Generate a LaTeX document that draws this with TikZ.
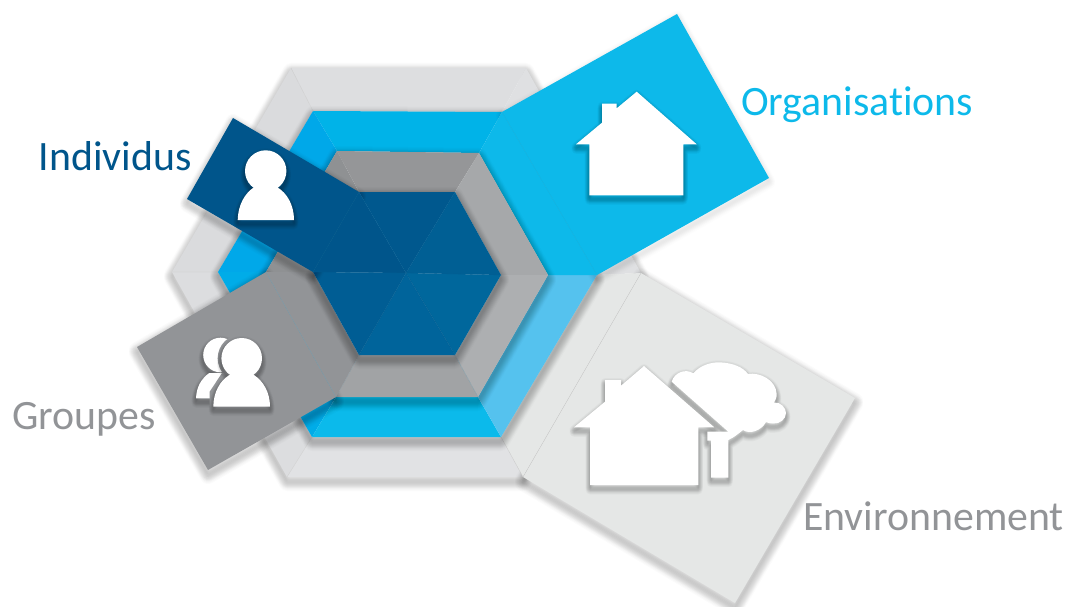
\documentclass[tikz,border=0pt]{standalone}
\usepackage{fontspec}
\setmainfont{Carlito}[Ligatures=NoCommon]
\definecolor{cDark}{HTML}{00558B}
\definecolor{cOrg}{HTML}{0DB9EA}
\definecolor{cGrp}{HTML}{929497}
\definecolor{cEnv}{HTML}{E5E7E6}
\newcommand\softsh[4]{% shift, opacity step, widths, path
  \begin{scope}[transform canvas={yshift=-#1 pt}]
    \foreach \w in {#3}{\draw[black,draw opacity=#2,line width=\w pt,line join=round] #4;}
  \end{scope}
  \begin{scope}[transform canvas={yshift=-#1 pt*0.5}]
    \foreach \w in {#3}{\draw[black,draw opacity=#2,line width=\w pt,line join=round] #4;}
  \end{scope}}
\newcommand\bigsh[1]{\softsh{6}{.016}{2,4,6,8,10,12,14,16}{#1}}
\newcommand\iconsh[1]{\softsh{5}{.024}{1.5,3,4.5,6,7.5,9}{#1}}
\tikzset{
  fold/.style={draw=#1,line width=.3pt},
  lab/.style={anchor=base west,inner sep=0pt,font=\fontsize{41.8}{42}\selectfont},
}
\begin{document}
\begin{tikzpicture}[x=1pt,y=-1pt]
\useasboundingbox (0,0) rectangle (1073,607);
% vertices
\coordinate (a1) at (291,68);\coordinate (a2) at (526,68);\coordinate (a3) at (641,273);
\coordinate (a4) at (523,477);\coordinate (a5) at (287,477);\coordinate (a6) at (172,272);
\coordinate (b1) at (313,111);\coordinate (b2) at (502,112);\coordinate (b3) at (597,275);
\coordinate (b4) at (501,437);\coordinate (b5) at (312,437);\coordinate (b6) at (218,272);
\coordinate (c1) at (337,151);\coordinate (c2) at (479,153);\coordinate (c3) at (548,275);
\coordinate (c4) at (478,397);\coordinate (c5) at (336,397);\coordinate (c6) at (266,272);
\coordinate (d1) at (359,192);\coordinate (d2) at (455,192);\coordinate (d3) at (501,275);
\coordinate (d4) at (455,355);\coordinate (d5) at (359,355);\coordinate (d6) at (313,272);
\coordinate (m) at (406,273);
\coordinate (ind1) at (233,118);\coordinate (ind2) at (187,199);
\coordinate (grp1) at (137,347);\coordinate (grp2) at (208,470);
\coordinate (org1) at (677,14);\coordinate (org2) at (769,178);
\coordinate (env1) at (855,398);\coordinate (env2) at (735,603);
% outer hexagon
\bigsh{(a1)--(a2)--(a3)--(a4)--(a5)--(a6)--cycle}
\fill[color={rgb,255:red,221;green,222;blue,224}] (a1)--(a2)--(b2)--(b1)--cycle;
\fill[color={rgb,255:red,218;green,219;blue,221}] (a1)--(b1)--(b6)--(a6)--cycle;
\fill[color={rgb,255:red,220;green,221;blue,223}] (a6)--(b6)--(b5)--(a5)--cycle;
\fill[color={rgb,255:red,225;green,226;blue,228}] (a5)--(b5)--(b4)--(a4)--cycle;
\fill[color={rgb,255:red,223;green,224;blue,226}] (a2)--(a3)--(b3)--(b2)--cycle;
\draw[fold=gray!40] (a1)--(b1) (a6)--(b6) (a5)--(b5);
% environment panel
\bigsh{(a3)--(env1)--(env2)--(a4)--cycle}
\fill[cEnv] (b3)--(a3)--(a4)--(b4)--cycle;
\fill[cEnv] (a3)--(env1)--(env2)--(a4)--cycle;
\draw[fold=gray!45] (a3)--(a4) (b4)--(a4);
% blue hexagon
\bigsh{(b1)--(b2)--(b3)--(b4)--(b5)--(b6)--cycle}
\fill[color={rgb,255:red,0;green,179;blue,232}] (b1)--(b2)--(c2)--(c1)--cycle;
\fill[color={rgb,255:red,0;green,168;blue,233}] (b1)--(c1)--(c6)--(b6)--cycle;
\fill[color={rgb,255:red,0;green,172;blue,232}] (b6)--(c6)--(c5)--(b5)--cycle;
\fill[color={rgb,255:red,11;green,186;blue,235}] (b5)--(c5)--(c4)--(b4)--cycle;
\fill[color={rgb,255:red,85;green,194;blue,238}] (b4)--(c4)--(c3)--(b3)--cycle;
% organisation panel
\softsh{5}{.008}{2,4,6,8,10,12}{(b2)--(org1)--(org2)--(b3)--cycle}
\fill[cOrg] (b2)--(b3)--(c3)--(c2)--cycle;
\fill[cOrg] (b2)--(org1)--(org2)--(b3)--cycle;
\draw[fold=cOrg!96!black] (b2)--(b3);
% gray hexagon
\bigsh{(c1)--(c2)--(c3)--(c4)--(c5)--(c6)--cycle}
\fill[color={rgb,255:red,149;green,150;blue,152}] (c1)--(c2)--(d2)--(d1)--cycle;
\fill[color={rgb,255:red,143;green,145;blue,147}] (c1)--(d1)--(d6)--(c6)--cycle;
\fill[color={rgb,255:red,166;green,168;blue,170}] (c2)--(c3)--(d3)--(d2)--cycle;
\fill[color={rgb,255:red,173;green,175;blue,177}] (c3)--(c4)--(d4)--(d3)--cycle;
\fill[color={rgb,255:red,161;green,163;blue,165}] (c4)--(c5)--(d5)--(d4)--cycle;
\draw[fold=gray!75!cyan] (c4)--(d4) (c5)--(d5);
% groups panel
\softsh{6}{.016}{2,4,6,8,10,12,14,16}{(c6)--(grp1)--(grp2)--(c5)--cycle}
\fill[cGrp] (c6)--(d6)--(d5)--(c5)--cycle;
\fill[cGrp] (c6)--(grp1)--(grp2)--(c5)--cycle;
\draw[fold=cyan!30!gray] (c6)--(c5);
% dark hexagon
\bigsh{(d1)--(d2)--(d3)--(d4)--(d5)--(d6)--cycle}
\fill[color={rgb,255:red,0;green,88;blue,142}] (d1)--(d2)--(m)--cycle;
\fill[color={rgb,255:red,0;green,95;blue,148}] (d2)--(d3)--(m)--cycle;
\fill[color={rgb,255:red,0;green,103;blue,156}] (d3)--(d4)--(m)--cycle;
\fill[color={rgb,255:red,0;green,100;blue,155}] (d4)--(d5)--(m)--cycle;
\fill[color={rgb,255:red,0;green,93;blue,148}] (d5)--(d6)--(m)--cycle;
\draw[fold=cDark!95!cyan] (d2)--(m) (d3)--(m) (d4)--(m) (d5)--(m);
% individuals panel
\softsh{6}{.016}{2,4,6,8,10,12,14}{(ind1)--(d1)--(d6)--(ind2)--cycle}
\fill[cDark] (d1)--(m)--(d6)--cycle;
\fill[cDark] (ind1)--(d1)--(d6)--(ind2)--cycle;
\draw[fold=cDark!95!cyan] (d1)--(d6) (d1)--(m) (d6)--(m);
% individual icon
\iconsh{(265.7,171) circle (20.7)}
\iconsh{(237.7,220) .. controls (238,205) and (245,193) .. (254,187.3) -- (277.3,187.3) .. controls (287,193) and (294,205) .. (294,220) -- cycle}
\fill[white] (265.7,171) circle (20.7);
\fill[white] (237.7,220) .. controls (238,205) and (245,193) .. (254,187.3) -- (277.3,187.3) .. controls (287,193) and (294,205) .. (294,220) -- cycle;
% groups icon
\iconsh{(220.5,355) circle (17.3)}
\iconsh{(196,398.3) .. controls (196.5,387) and (201,379) .. (209.3,373) -- (232,373) -- (232,398.3) -- cycle}
\fill[white] (220.5,355) circle (17.3);
\fill[white] (196,398.3) .. controls (196.5,387) and (201,379) .. (209.3,373) -- (232,373) -- (232,398.3) -- cycle;
\fill[cGrp] (241.7,358.3) circle (24);
\fill[cGrp] (209.5,408) -- (209.5,392) -- (222,373) -- (240,380) -- (240,408) -- cycle;
\iconsh{(241.7,358.3) circle (20.3)}
\iconsh{(213.3,406.7) .. controls (213.5,392) and (220,381) .. (229.3,375) -- (254,375) .. controls (263,381) and (270,392) .. (270,406.7) -- cycle}
\fill[white] (241.7,358.3) circle (20.3);
\fill[white] (213.3,406.7) .. controls (213.5,392) and (220,381) .. (229.3,375) -- (254,375) .. controls (263,381) and (270,392) .. (270,406.7) -- cycle;
% organisation house
\iconsh{(636.7,91.7)--(696.7,144.3)--(683.3,144.3)--(683.3,195.3)--(589.3,195.3)--(589.3,144.3)--(576,144.3)--(602,122.7)--(602,103.7)--(616.7,103.7)--(616.7,108.3)--cycle}
\fill[white] (636.7,91.7)--(696.7,144.3)--(683.3,144.3)--(683.3,195.3)--(589.3,195.3)--(589.3,144.3)--(576,144.3)--(602,122.7)--(602,103.7)--(616.7,103.7)--(616.7,108.3)--cycle;
% environment house and tree
\iconsh{(644,366)--(714.3,427.3)--(698.3,427.3)--(698.3,485)--(590,485)--(590,427.3)--(574,427.3)--(605,401.7)--(605,380)--(621,380)--(621,385.7)--cycle}
\iconsh{(671.7,381.7) .. controls (674,373) and (685,368) .. (693.3,373.3) .. controls (700,365) and (712,362) .. (720,362.3) .. controls (733,363) and (743,367) .. (748,374) .. controls (760,372) and (776,380) .. (776.7,394) .. controls (776.7,398) and (775.5,400) .. (774,402.5) .. controls (781,402) and (786,408) .. (786,413) .. controls (786,419) and (780,424) .. (773,423.5) .. controls (770,423.5) and (768,423) .. (766,422) .. controls (762,430) and (750,435) .. (743,430) .. controls (738,434) and (733,438) .. (728.3,440) -- (728.3,477.7) -- (711,477.7) -- (711,440.7) -- (707.3,440.7) -- (707.3,431.7) -- (728.3,431.7) -- cycle}
\fill[white] (644,366)--(714.3,427.3)--(698.3,427.3)--(698.3,485)--(590,485)--(590,427.3)--(574,427.3)--(605,401.7)--(605,380)--(621,380)--(621,385.7)--cycle;
\fill[white] (671.7,381.7) .. controls (674,373) and (685,368) .. (693.3,373.3) .. controls (700,365) and (712,362) .. (720,362.3) .. controls (733,363) and (743,367) .. (748,374) .. controls (760,372) and (776,380) .. (776.7,394) .. controls (776.7,398) and (775.5,400) .. (774,402.5) .. controls (781,402) and (786,408) .. (786,413) .. controls (786,419) and (780,424) .. (773,423.5) .. controls (770,423.5) and (768,423) .. (766,422) .. controls (762,430) and (750,435) .. (743,430) .. controls (738,434) and (733,438) .. (728.3,440) -- (728.3,477.7) -- (711,477.7) -- (711,440.7) -- (707.3,440.7) -- (707.3,431.7) -- (728.3,431.7) -- cycle;
% labels
\node[lab,text=cDark] (individus) at (38.5,170) {Individus};
\node[lab,text=cOrg] (organisations) at (741,116) {Organisations};
\node[lab,text=cGrp] (groupes) at (12,429) {Groupes};
\node[lab,text=cGrp] (environnement) at (803,530) {Environnement};
\end{tikzpicture}
\end{document}
